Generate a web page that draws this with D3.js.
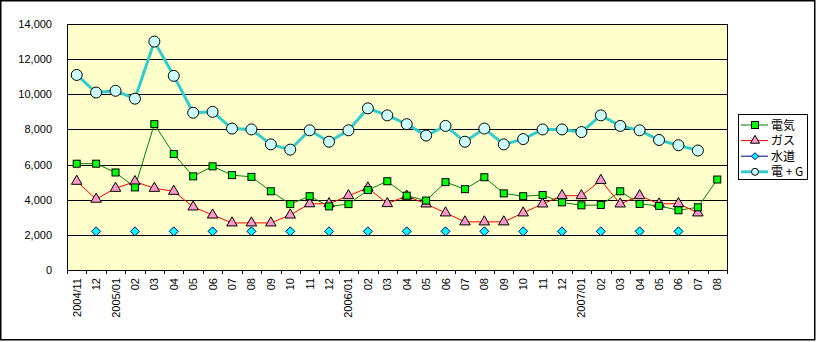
<!DOCTYPE html>
<html>
<head>
<meta charset="utf-8">
<script src="https://cdn.jsdelivr.net/npm/d3@7/dist/d3.min.js"></script>
<style>
  html, body { margin: 0; padding: 0; background: #fff; }
  svg { display: block; }
  text { font-family: "Liberation Sans", Arial, sans-serif; }
  .jp { font-family: "Noto Sans CJK JP", sans-serif; }
</style>
</head>
<body>
<svg id="chart" width="817" height="342"></svg>
<script>
// Monthly utility usage, 2004/11 – 2007/08
const months = [
  "2004/11", "12", "2005/01", "02", "03", "04", "05", "06", "07", "08", "09", "10", "11", "12",
  "2006/01", "02", "03", "04", "05", "06", "07", "08", "09", "10", "11", "12",
  "2007/01", "02", "03", "04", "05", "06", "07", "08"
];

const denki = [
  6050, 6050, 5550, 4700, 8300, 6600, 5330, 5900, 5400, 5300, 4480, 3750, 4200, 3620,
  3750, 4550, 5050, 4230, 3950, 5000, 4600, 5280, 4360, 4200, 4270, 3850,
  3680, 3700, 4480, 3760, 3650, 3400, 3570, 5150
];

const gas = [
  5050, 4030, 4650, 5030, 4650, 4480, 3590, 3130, 2680, 2680, 2680, 3130, 3770, 3770,
  4230, 4670, 3780, 4210, 3760, 3250, 2740, 2740, 2740, 3250, 3760, 4230,
  4230, 5100, 3760, 4230, 3760, 3780, 3250, null
];

const suido = [
  null, 2200, null, 2200, null, 2200, null, 2200, null, 2200, null, 2200, null, 2200,
  null, 2200, null, 2200, null, 2200, null, 2200, null, 2200, null, 2200,
  null, 2200, null, 2200, null, 2200, null, null
];

const denkiGas = [
  11100, 10100, 10200, 9750, 13000, 11050, 8950, 9000, 8050, 8000, 7150, 6850, 7950, 7300,
  7950, 9200, 8800, 8300, 7650, 8200, 7300, 8050, 7150, 7450, 8000, 8000,
  7850, 8800, 8200, 7950, 7400, 7100, 6800, null
];

const yTicks = [0, 2000, 4000, 6000, 8000, 10000, 12000, 14000];
const seriesNames = ["電気", "ガス", "水道", "電 + G"];

const svg = d3.select("#chart");
const W = 817, H = 342;
const plot = { left: 67, right: 727, top: 24, bottom: 270 };

// outer frame
svg.append("rect")
  .attr("x", 0.75).attr("y", 0.75)
  .attr("width", W - 3).attr("height", H - 3)
  .attr("fill", "#fff").attr("stroke", "#000").attr("stroke-width", 1.5);

const x = d3.scaleBand().domain(d3.range(months.length))
  .range([plot.left, plot.right]).paddingInner(0).paddingOuter(0);
const y = d3.scaleLinear().domain([0, 14000]).range([plot.bottom, plot.top]);
const cx = i => x(i) + x.bandwidth() / 2;

// plot background
svg.append("rect")
  .attr("x", plot.left).attr("y", plot.top)
  .attr("width", plot.right - plot.left).attr("height", plot.bottom - plot.top)
  .attr("fill", "#FFFFCC");

// horizontal gridlines
svg.append("g").selectAll("line").data(yTicks.filter(v => v > 0)).join("line")
  .attr("x1", plot.left).attr("x2", plot.right)
  .attr("y1", d => Math.round(y(d)) + 0.5).attr("y2", d => Math.round(y(d)) + 0.5)
  .attr("stroke", "#000").attr("stroke-width", 1);

// plot border
svg.append("rect")
  .attr("x", plot.left + 0.5).attr("y", Math.round(plot.top) + 0.5)
  .attr("width", plot.right - plot.left).attr("height", plot.bottom - plot.top)
  .attr("fill", "none").attr("stroke", "#000").attr("stroke-width", 1);

// y axis labels
const fmt = d3.format(",");
svg.append("g").selectAll("text").data(yTicks).join("text")
  .attr("x", 52).attr("y", d => y(d) + 4)
  .attr("text-anchor", "end")
  .attr("font-size", 11).attr("fill", "#000")
  .text(d => fmt(d));

// x axis ticks at category boundaries
svg.append("g").selectAll("line").data(d3.range(months.length + 1)).join("line")
  .attr("x1", i => Math.round(plot.left + i * x.bandwidth()) + 0.5)
  .attr("x2", i => Math.round(plot.left + i * x.bandwidth()) + 0.5)
  .attr("y1", plot.bottom).attr("y2", plot.bottom + 4)
  .attr("stroke", "#000");

// rotated month labels
svg.append("g").selectAll("text").data(months).join("text")
  .attr("transform", (d, i) => `translate(${cx(i) + 4},${plot.bottom + 8}) rotate(-90)`)
  .attr("text-anchor", "end")
  .attr("font-size", 11).attr("fill", "#000")
  .text(d => d);

// line generator that skips missing months
const lineGen = d3.line()
  .defined(d => d != null)
  .x((d, i) => cx(i))
  .y(d => y(d));

const pts = arr => arr.map((v, i) => ({ v, i })).filter(d => d.v != null);

// square rotated 45° for the water markers
const diamondPath = r => `M0,${-r}L${r},0L0,${r}L${-r},0Z`;

// 電+G : thick teal line with pale circles
svg.append("path").datum(denkiGas)
  .attr("d", lineGen).attr("fill", "none")
  .attr("stroke", "#33CCCC").attr("stroke-width", 3);
svg.append("g").selectAll("circle").data(pts(denkiGas)).join("circle")
  .attr("cx", d => cx(d.i)).attr("cy", d => y(d.v)).attr("r", 5.5)
  .attr("fill", "#CCFFFF").attr("stroke", "#000").attr("stroke-width", 1);

// 電気 : green line
svg.append("path").datum(denki)
  .attr("d", lineGen).attr("fill", "none")
  .attr("stroke", "#008000").attr("stroke-width", 1);

// ガス : red line with pink triangles
svg.append("path").datum(gas)
  .attr("d", lineGen).attr("fill", "none")
  .attr("stroke", "#FF0000").attr("stroke-width", 1);

const tri = d3.symbol().type(d3.symbolTriangle).size(48);
svg.append("g").selectAll("path").data(pts(gas)).join("path")
  .attr("d", tri)
  .attr("transform", d => `translate(${cx(d.i)},${y(d.v)})`)
  .attr("fill", "#FF99CC").attr("stroke", "#000").attr("stroke-width", 1);

// 電気 lime squares
svg.append("g").selectAll("rect").data(pts(denki)).join("rect")
  .attr("x", d => cx(d.i) - 3.5).attr("y", d => y(d.v) - 3.5)
  .attr("width", 7).attr("height", 7)
  .attr("fill", "#00FF00").attr("stroke", "#000").attr("stroke-width", 1);

// 水道 : navy line (broken by gaps) with cyan diamonds
svg.append("path").datum(suido)
  .attr("d", lineGen).attr("fill", "none")
  .attr("stroke", "#000080").attr("stroke-width", 1);
svg.append("g").selectAll("path").data(pts(suido)).join("path")
  .attr("d", diamondPath(4.5))
  .attr("transform", d => `translate(${cx(d.i)},${y(d.v)})`)
  .attr("fill", "#00FFFF").attr("stroke", "#000080").attr("stroke-width", 1);

// legend
const lg = svg.append("g");
lg.append("rect")
  .attr("x", 738.5).attr("y", 114.5).attr("width", 69).attr("height", 65)
  .attr("fill", "#fff").attr("stroke", "#000").attr("stroke-width", 1);

const legendRows = [
  { name: seriesNames[0], stroke: "#008000", w: 1, mark: "square", fill: "#00FF00", mstroke: "#000" },
  { name: seriesNames[1], stroke: "#FF0000", w: 1, mark: "tri", fill: "#FF99CC", mstroke: "#000" },
  { name: seriesNames[2], stroke: "#000080", w: 1, mark: "diamond", fill: "#00FFFF", mstroke: "#000080" },
  { name: seriesNames[3], stroke: "#33CCCC", w: 3, mark: "circle", fill: "#CCFFFF", mstroke: "#000" }
];
legendRows.forEach((r, k) => {
  const ly = 125 + k * 15.6;
  lg.append("line").attr("x1", 741).attr("x2", 768).attr("y1", ly).attr("y2", ly)
    .attr("stroke", r.stroke).attr("stroke-width", r.w);
  if (r.mark === "square") {
    lg.append("rect").attr("x", 751.5).attr("y", ly - 3.5).attr("width", 7).attr("height", 7)
      .attr("fill", r.fill).attr("stroke", r.mstroke);
  } else if (r.mark === "tri") {
    lg.append("path").attr("d", d3.symbol().type(d3.symbolTriangle).size(36)())
      .attr("transform", `translate(755,${ly})`).attr("fill", r.fill).attr("stroke", r.mstroke);
  } else if (r.mark === "diamond") {
    lg.append("path").attr("d", diamondPath(3.5))
      .attr("transform", `translate(755,${ly})`).attr("fill", r.fill).attr("stroke", r.mstroke);
  } else {
    lg.append("circle").attr("cx", 755).attr("cy", ly).attr("r", 3.5)
      .attr("fill", r.fill).attr("stroke", r.mstroke);
  }
  lg.append("text").attr("class", "jp")
    .attr("x", 771).attr("y", ly + 4.5)
    .attr("font-size", 12).attr("fill", "#000")
    .text(r.name);
});
</script>
</body>
</html>
